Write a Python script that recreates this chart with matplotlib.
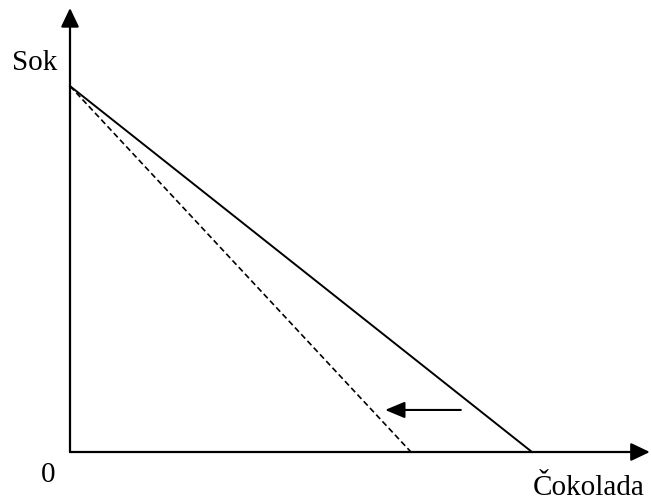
import matplotlib.pyplot as plt

# Budget line intercepts (units along each axis)
sok_max = 7.92
cokolada_old = 10.0
cokolada_new = 7.38

# axis extents
x_end = 12.55
y_end = 9.61

# shift arrow (from -> to), at height
shift_y = 0.91
shift_from = 8.46
shift_to = 6.82

fig = plt.figure(figsize=(6.51, 5.01), dpi=100)
ax = fig.add_axes([0, 0, 1, 1])
ax.set_xlim(-70 / 46.2, 581 / 46.2)
ax.set_ylim(-49 / 46.2, 452 / 46.2)
ax.axis('off')

head = dict(arrowstyle='-|>,head_length=1.15,head_width=0.55', color='black',
            lw=1.6, shrinkA=0, shrinkB=0)

# axes with arrow heads
ax.annotate('', xy=(x_end, 0), xytext=(0, 0), arrowprops=head)
ax.annotate('', xy=(0, y_end), xytext=(0, 0), arrowprops=head)

# budget lines
ax.plot([0, cokolada_old], [sok_max, 0], color='black', lw=1.4)
ax.plot([0, cokolada_new], [sok_max, 0], color='black', lw=1.2,
        linestyle=(0, (3.5, 2)))

# shift arrow
ax.annotate('', xy=(shift_to, shift_y), xytext=(shift_from, shift_y),
            arrowprops=dict(arrowstyle='-|>,head_length=1.2,head_width=0.5',
                            color='black', lw=1.5, shrinkA=0, shrinkB=0))

font = dict(family='Liberation Serif', fontsize=21, color='black')
ax.text(-35 / 46.2, (452 - 63) / 46.2, 'Sok', ha='center', va='center', **font)
ax.text(-22 / 46.2, (452 - 475) / 46.2, '0', ha='center', va='center', **font)
ax.text((589 - 70) / 46.2, (452 - 488) / 46.2, 'Čokolada', ha='center',
        va='center', **font)

fig.savefig('out.png', dpi=100)
